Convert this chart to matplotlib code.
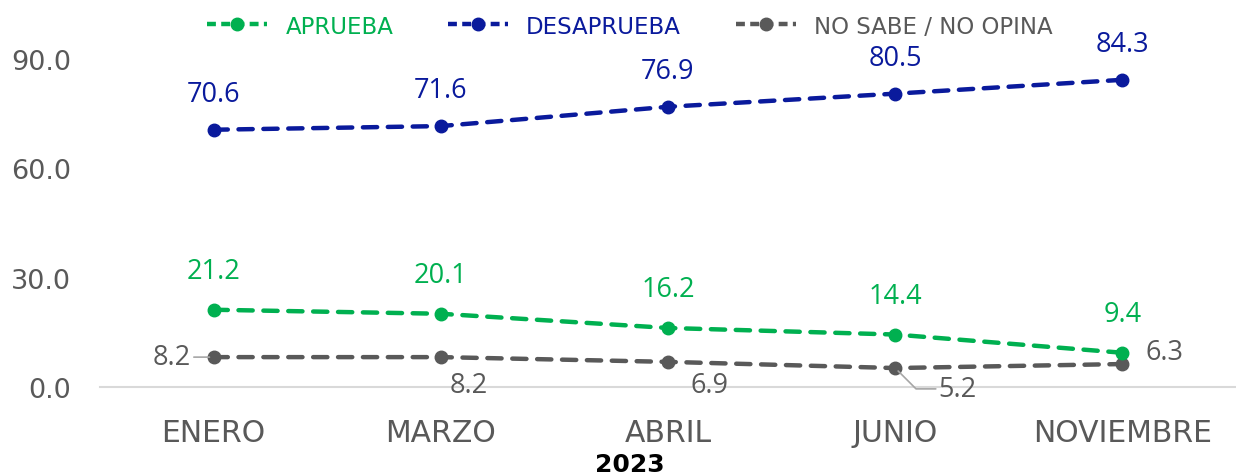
import matplotlib
matplotlib.use("Agg")
import matplotlib.pyplot as plt
from matplotlib.lines import Line2D

categories = ["ENERO", "MARZO", "ABRIL", "JUNIO", "NOVIEMBRE"]
aprueba = [21.2, 20.1, 16.2, 14.4, 9.4]
desaprueba = [70.6, 71.6, 76.9, 80.5, 84.3]
nsno = [8.2, 8.2, 6.9, 5.2, 6.3]
series_names = ["APRUEBA", "DESAPRUEBA", "NO SABE / NO OPINA"]
yticks = [0, 30, 60, 90]
xlabel = "2023"

GREEN = "#00B050"
BLUE = "#0A1A9C"
GRAY = "#595959"

fig = plt.figure(figsize=(12.36, 4.77), dpi=100)
ax = fig.add_axes([100/1236, 1-388/477, 1-100/1236, (388-23.6)/477])
x = list(range(len(categories)))

dash = (0, (3.2, 2.4))
for vals, col in [(nsno, GRAY), (aprueba, GREEN), (desaprueba, BLUE)]:
    ax.plot(x, vals, color=col, lw=3.2, linestyle=dash, marker="o", ms=9,
            dash_capstyle="round", zorder=3)

ax.set_xlim(-0.5, 4.5)
ax.set_ylim(0, 100)
ax.set_yticks(yticks)
ax.set_yticklabels([f"{v:.1f}" for v in yticks])
ax.set_xticks(x)
ax.set_xticklabels(categories)
for s in ["top", "right", "left"]:
    ax.spines[s].set_visible(False)
ax.spines["bottom"].set_color("#D9D9D9")
ax.spines["bottom"].set_linewidth(1.5)
ax.tick_params(axis="both", length=0, labelcolor="#595959")
ax.tick_params(axis="x", pad=22, labelsize=21.5)
ax.tick_params(axis="y", pad=21, labelsize=19.5)
for lab in ax.get_yticklabels() + ax.get_xticklabels():
    lab.set_family("DejaVu Sans")

lf = dict(family="Open Sans", fontsize=19.5)
for i, v in enumerate(desaprueba):
    ax.annotate(f"{v:.1f}", (i, v), xytext=(0, 26), textcoords="offset points",
                ha="center", va="center", color=BLUE, **lf)
for i, v in enumerate(aprueba):
    ax.annotate(f"{v:.1f}", (i, v), xytext=(0, 28), textcoords="offset points",
                ha="center", va="center", color=GREEN, **lf)
lead = dict(arrowstyle="-", color="#A6A6A6", lw=1.2, shrinkA=0, shrinkB=3)
ax.annotate(f"{nsno[0]:.1f}", (0, nsno[0]), xytext=(-30, 0), textcoords="offset points",
            ha="center", va="center", color=GRAY, arrowprops=lead, **lf)
ax.annotate(f"{nsno[1]:.1f}", (1, nsno[1]), xytext=(20, -20), textcoords="offset points",
            ha="center", va="center", color=GRAY, **lf)
ax.annotate(f"{nsno[2]:.1f}", (2, nsno[2]), xytext=(30, -17), textcoords="offset points",
            ha="center", va="center", color=GRAY, **lf)
ax.annotate(f"{nsno[3]:.1f}", (3, nsno[3]), xytext=(45, -15), textcoords="offset points",
            ha="center", va="center", color=GRAY,
            arrowprops=dict(arrowstyle="-", color="#A6A6A6", lw=1.2, shrinkA=0, shrinkB=3,
                            connectionstyle="angle,angleA=0,angleB=-45,rad=0"), **lf)
ax.annotate(f"{nsno[4]:.1f}", (4, nsno[4]), xytext=(30, 9), textcoords="offset points",
            ha="center", va="center", color=GRAY, **lf)

fig.text(630/1236, 1-465/477, xlabel, ha="center", va="center", fontsize=18,
         fontweight="bold", family="DejaVu Sans", color="black")

handles = [Line2D([], [], color=c, lw=3.2, linestyle=(0, (2, 1.2)), marker="o", ms=9)
           for c in (GREEN, BLUE, GRAY)]
leg = fig.legend(handles, series_names, loc="center", bbox_to_anchor=(630/1236, 1-27/477),
                 ncol=3, frameon=False, handlelength=2.6, columnspacing=2.4,
                 handletextpad=0.8, prop=dict(family="DejaVu Sans", size=16.5))
for t, c in zip(leg.get_texts(), (GREEN, BLUE, GRAY)):
    t.set_color(c)

fig.savefig("out.png", dpi=100)
